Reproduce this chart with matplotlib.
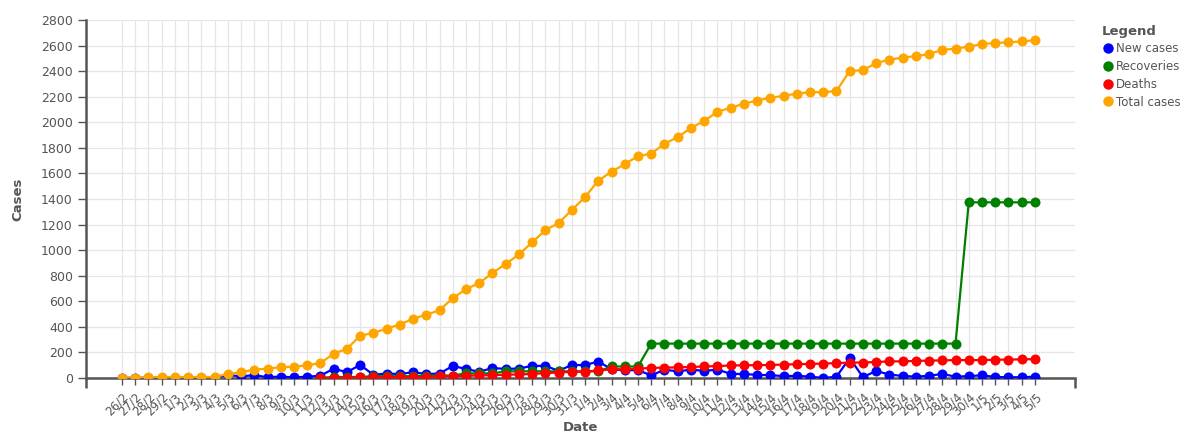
import numpy as np
import pandas as pd
import matplotlib
matplotlib.use("Agg")
import matplotlib.pyplot as plt
from matplotlib.lines import Line2D

# ---------------- data ----------------
dates = pd.date_range("2020-02-26", "2020-05-05")
date_labels = [f"{d.day}/{d.month}" for d in dates]

new_cases = [1, 2, 1, 3, 0, 0, 0, 2, 22, 14, 21, 7, 11, 5, 10, 18, 73, 45, 103, 25,
             35, 31, 46, 31, 35, 94, 71, 48, 78, 71, 74, 95, 95, 56, 102, 101, 129, 69, 60, 62,
             20, 65, 52, 65, 56, 65, 33, 31, 25, 22, 15, 17, 11, 0, 10, 156, 7, 55, 27, 16,
             11, 17, 32, 10, 15, 21, 8, 6, 6, 10]

recoveries = [None] * 15 + [0, 8, 8, 8, 14, 14, 14, 14, 19, 19, 19, 36, 36, 36, 52, 52, 52, 52,
                            52, 52, 52, 52, 90, 90, 90] + [269] * 24 + [1374] * 6

deaths = [None] * 15 + [1, 1, 3, 4, 4, 5, 5, 6, 6, 13, 15, 17, 20, 22, 26, 28, 32, 38, 43, 49,
                        50, 59, 68, 68, 73, 79, 81, 83, 86, 90, 93, 98, 99, 101, 102, 105, 108, 110, 113, 116,
                        121, 121, 125, 130, 130, 134, 136, 138, 140, 140, 140, 143, 144, 146, 147]

total_cases = [1, 3, 4, 7, 7, 7, 7, 9, 31, 45, 66, 73, 84, 89, 99, 117, 190, 228, 331, 352,
               387, 418, 464, 495, 530, 624, 695, 743, 821, 892, 966, 1061, 1156, 1212, 1314, 1415, 1544, 1613, 1673, 1735,
               1755, 1832, 1884, 1955, 2011, 2081, 2114, 2145, 2170, 2192, 2207, 2224, 2235, 2235, 2245, 2401, 2408, 2463, 2490, 2506,
               2517, 2534, 2566, 2576, 2591, 2612, 2620, 2626, 2632, 2642]

series_names = ["New cases", "Recoveries", "Deaths", "Total cases"]
series_colors = ["#0000ff", "#008000", "#ff0000", "#ffa500"]
y_ticks = list(range(0, 2801, 200))

# ---------------- figure ----------------
fig = plt.figure(figsize=(12, 4.37), dpi=100)
ax = fig.add_axes([86 / 1200, 1 - 378 / 437, (1075 - 86) / 1200, (378 - 20) / 437])

x = np.arange(len(date_labels))
all_series = [new_cases, recoveries, deaths, total_cases]
for vals, name, col in zip(all_series, series_names, series_colors):
    v = np.array([np.nan if a is None else a for a in vals], dtype=float)
    ax.plot(x, v, color=col, lw=1.6, marker="o", markersize=7.2, label=name,
            markeredgewidth=0, zorder=3)

axis_col = "#555555"
text_col = "#555555"

ax.set_xlim(-2.72, 72.03)
ax.set_ylim(0, 2800)
ax.set_yticks(y_ticks)
ax.set_yticklabels([str(t) for t in y_ticks])
ax.set_xticks(x)
ax.set_xticklabels(date_labels, rotation=45, ha="right", va="top",
                   rotation_mode="anchor", fontsize=8.5, color="#666666")
ax.set_xticks([-2.72, 72.03], minor=True)

ax.grid(True, color="#e6e6e6", lw=0.9, zorder=0)
ax.set_axisbelow(True)
for s in ["top", "right"]:
    ax.spines[s].set_visible(False)
for s in ["left", "bottom"]:
    ax.spines[s].set_color(axis_col)
    ax.spines[s].set_linewidth(1.8)

ax.tick_params(axis="y", colors=axis_col, labelcolor=text_col, labelsize=9, length=6, width=1)
ax.tick_params(axis="x", which="major", colors=axis_col, length=5, width=1, pad=4)
ax.tick_params(axis="x", which="minor", colors=axis_col, length=7, width=1.8)

ax.set_xlabel("Date", fontsize=9.5, fontweight="bold", color=text_col, labelpad=2)
ax.set_ylabel("Cases", fontsize=9.5, fontweight="bold", color=text_col, labelpad=12)

handles = [Line2D([0], [0], marker="o", linestyle="none", markersize=7.5,
                  markerfacecolor=c, markeredgewidth=0) for c in series_colors]
leg = ax.legend(handles, series_names, loc="upper left",
                bbox_to_anchor=(1097 / 1200, 1 - 20 / 437), bbox_transform=fig.transFigure,
                frameon=False, title="Legend", fontsize=8.5, title_fontsize=9.5,
                handletextpad=0.2, labelspacing=0.4, borderaxespad=0, alignment="left",
                handlelength=1.0)
leg.get_title().set_fontweight("bold")
leg.get_title().set_color(text_col)
for t in leg.get_texts():
    t.set_color(text_col)

fig.savefig("out.png", dpi=100)
